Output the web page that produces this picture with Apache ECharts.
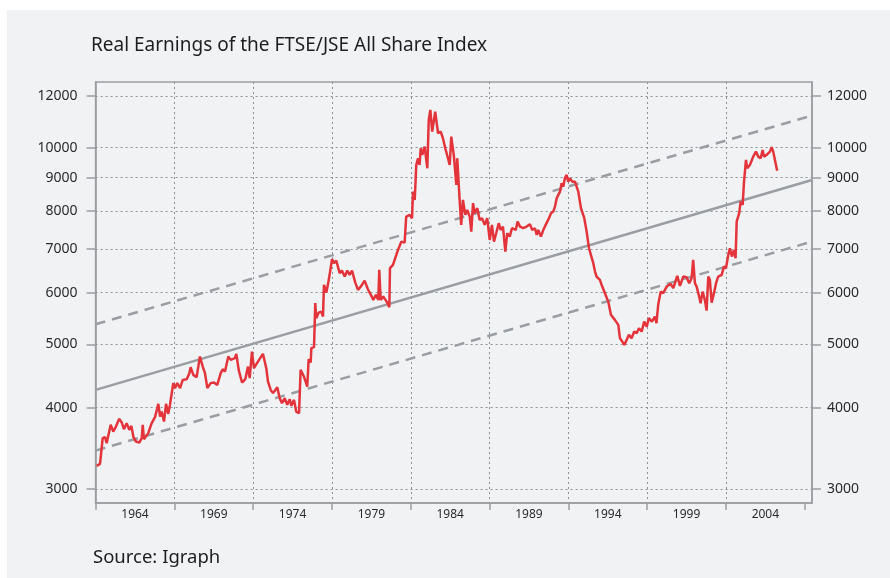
<!DOCTYPE html>
<html>
<head>
<meta charset="utf-8">
<title>Real Earnings of the FTSE/JSE All Share Index</title>
<script src="https://cdn.jsdelivr.net/npm/echarts@6.0.0/dist/echarts.min.js"></script>
<style>
  html, body { margin: 0; padding: 0; background: #ffffff; }
  #panel { position: absolute; left: 7px; top: 10px; right: 0; bottom: 0; background: #f1f2f4; }
  #chart { position: absolute; left: 0; top: 0; width: 890px; height: 578px; }
</style>
</head>
<body>
<div id="panel"></div>
<div id="chart"></div>
<script>
// real earnings (year, index level)
const years = [
  1961.57, 1961.78, 1961.95, 1962.10, 1962.20, 1962.46, 1962.62, 1962.79, 1963.00, 1963.16,
  1963.30, 1963.47, 1963.64, 1963.77, 1963.89, 1964.06, 1964.27, 1964.43, 1964.49, 1964.57,
  1964.84, 1965.06, 1965.27, 1965.48, 1965.59, 1965.69, 1965.84, 1965.97, 1966.11, 1966.22,
  1966.33, 1966.43, 1966.54, 1966.68, 1966.86, 1967.03, 1967.28, 1967.45, 1967.53, 1967.70,
  1967.91, 1968.12, 1968.30, 1968.44, 1968.59, 1968.80, 1969.01, 1969.22, 1969.44, 1969.56,
  1969.71, 1969.92, 1970.07, 1970.34, 1970.43, 1970.58, 1970.79, 1971.00, 1971.17, 1971.28,
  1971.42, 1971.55, 1971.80, 1972.12, 1972.33, 1972.44, 1972.61, 1972.76, 1973.03, 1973.18,
  1973.33, 1973.50, 1973.66, 1973.82, 1973.92, 1974.09, 1974.23, 1974.41, 1974.51, 1974.72,
  1974.93, 1975.02, 1975.15, 1975.19, 1975.36, 1975.44, 1975.50, 1975.66, 1975.82, 1975.93,
  1975.99, 1976.14, 1976.25, 1976.35, 1976.50, 1976.63, 1976.77, 1976.99, 1977.13, 1977.31,
  1977.47, 1977.62, 1977.77, 1977.98, 1978.15, 1978.36, 1978.57, 1978.78, 1979.04, 1979.12,
  1979.29, 1979.44, 1979.50, 1979.59, 1979.75, 1979.97, 1980.14, 1980.18, 1980.37, 1980.69,
  1980.90, 1981.11, 1981.21, 1981.43, 1981.58, 1981.64, 1981.75, 1981.85, 1981.96, 1982.06,
  1982.13, 1982.23, 1982.38, 1982.48, 1982.55, 1982.64, 1982.74, 1982.86, 1983.05, 1983.23,
  1983.40, 1983.54, 1983.69, 1983.86, 1983.97, 1984.07, 1984.24, 1984.39, 1984.45, 1984.54,
  1984.60, 1984.70, 1984.81, 1984.96, 1985.08, 1985.24, 1985.34, 1985.45, 1985.55, 1985.72,
  1985.87, 1986.02, 1986.19, 1986.35, 1986.51, 1986.65, 1986.78, 1986.92, 1987.08, 1987.20,
  1987.35, 1987.50, 1987.62, 1987.78, 1987.92, 1988.00, 1988.16, 1988.28, 1988.43, 1988.64,
  1988.85, 1989.06, 1989.21, 1989.38, 1989.49, 1989.59, 1989.76, 1989.91, 1990.06, 1990.22,
  1990.40, 1990.54, 1990.65, 1990.76, 1990.86, 1990.97, 1991.07, 1991.18, 1991.28, 1991.39,
  1991.49, 1991.60, 1991.75, 1991.92, 1992.03, 1992.13, 1992.30, 1992.51, 1992.66, 1992.81,
  1992.93, 1993.08, 1993.19, 1993.29, 1993.50, 1993.65, 1993.82, 1994.03, 1994.20, 1994.45,
  1994.67, 1994.77, 1994.92, 1995.05, 1995.20, 1995.34, 1995.51, 1995.68, 1995.83, 1995.98,
  1996.15, 1996.31, 1996.47, 1996.61, 1996.80, 1996.99, 1997.09, 1997.20, 1997.36, 1997.52,
  1997.74, 1997.99, 1998.16, 1998.41, 1998.58, 1998.79, 1999.00, 1999.17, 1999.32, 1999.42,
  1999.53, 1999.64, 1999.80, 1999.89, 2000.02, 2000.16, 2000.27, 2000.38, 2000.48, 2000.59,
  2000.74, 2000.87, 2001.01, 2001.23, 2001.37, 2001.50, 2001.65, 2001.75, 2001.88, 2002.01,
  2002.11, 2002.18, 2002.34, 2002.43, 2002.56, 2002.64, 2002.77, 2002.85, 2003.02, 2003.23,
  2003.40, 2003.55, 2003.70, 2003.83, 2003.91, 2004.08, 2004.29, 2004.40, 2004.50, 2004.61,
  2004.75
];
const earnings = [
  3258, 3281, 3592, 3605, 3529, 3765, 3676, 3742, 3845, 3795,
  3707, 3787, 3698, 3751, 3612, 3549, 3537, 3592, 3765, 3579,
  3656, 3787, 3868, 4054, 3876, 3945, 3808, 4054, 3913, 4040,
  4040, 4361, 4284, 4361, 4284, 4411, 4422, 4517, 4613, 4490,
  4454, 4789, 4623, 4517, 4284, 4361, 4370, 4334, 4517, 4580,
  4542, 4789, 4733, 4762, 4835, 4569, 4370, 4422, 4623, 4438,
  4874, 4597, 4705, 4835, 4597, 4385, 4258, 4210, 4299, 4136,
  4064, 4136, 4040, 4121, 4026, 4111, 3945, 3923, 4569, 4463,
  4308, 4745, 4689, 4933, 4951, 5781, 5483, 5592, 5612, 5514,
  6166, 6001, 6188, 6388, 6750, 6656, 6717, 6426, 6484, 6349,
  6484, 6388, 6484, 6216, 6057, 6144, 6260, 6072, 5904, 5848,
  5952, 5848, 6500, 5848, 5917, 5813, 5700, 6540, 6617, 6974,
  7182, 7157, 7844, 7891, 7799, 8565, 8318, 9411, 9635, 9411,
  9981, 9749, 10037, 10098, 9301, 11026, 11422, 10581, 11355, 10523,
  10581, 10339, 9981, 9635, 9411, 10397, 9690, 8770, 9635, 8823,
  8318, 7618, 8318, 7891, 8030, 7844, 7439, 8223, 7938, 8079,
  7752, 7799, 7618, 7799, 7224, 7618, 7182, 7398, 7663, 7483,
  7572, 6933, 7398, 7309, 7529, 7572, 7483, 7706, 7572, 7529,
  7572, 7636, 7483, 7529, 7353, 7483, 7309, 7483, 7618, 7752,
  7938, 7983, 8125, 8369, 8467, 8565, 8823, 8718, 8979, 9085,
  8872, 8979, 8872, 8872, 8925, 8565, 8079, 7799, 7439, 7015,
  6854, 6656, 6462, 6349, 6275, 6129, 5988, 5813, 5548, 5450,
  5355, 5110, 5049, 4991, 5079, 5170, 5110, 5230, 5200, 5292,
  5230, 5417, 5323, 5483, 5417, 5514, 5386, 5747, 6021, 5988,
  6129, 6188, 6094, 6365, 6144, 6349, 6335, 6203, 6313, 6733,
  6203, 6129, 5917, 5781, 6021, 5848, 5631, 6349, 6275, 5793,
  5988, 6203, 6349, 6388, 6577, 6540, 6854, 7017, 6813, 6974,
  6774, 7706, 7938, 8269, 8174, 8823, 9577, 9301, 9411, 9690,
  9862, 9690, 9635, 9920, 9690, 9749, 9862, 10016, 9862, 9920,
  9223
];

// log-linear trend and its band
const trendYears = [1961.5, 2006.96];
const trendValues = [4258, 8925];
const bandYears = [1961.5, 2006.7];
const upperBand = [5367, 11155];
const lowerBand = [3438, 7153];

// axes
const yTicks = [3000, 4000, 5000, 6000, 7000, 8000, 9000, 10000, 12000];
const yRange = [2858, 12606];
const xRange = [1961.5, 2006.96];
const xTickYears = [1961.5, 1966.5, 1971.5, 1976.5, 1981.5, 1986.5, 1991.5, 1996.5, 2001.5, 2006.5];
const xGridYears = [1966.5, 1971.5, 1976.5, 1981.5, 1986.5, 1991.5, 1996.5, 2001.5];
const xLabelYears = [1964, 1969, 1974, 1979, 1984, 1989, 1994, 1999, 2004];

const lg = Math.log10;
const pairs = (xs, ys) => xs.map((x, i) => [x, lg(ys[i])]);

const FONT = 'Noto Sans';
const AXIS_GREY = '#9a9da1';
const GRID_GREY = '#8e9194';
const TEXT = '#2b2b2b';

const chart = echarts.init(document.getElementById('chart'));

const yAxisBase = {
  type: 'value',
  min: lg(yRange[0]),
  max: lg(yRange[1]),
  axisLine: { show: true, lineStyle: { color: AXIS_GREY, width: 1.5 } },
  axisTick: {
    show: true,
    customValues: yTicks.map(lg),
    length: 9,
    lineStyle: { color: AXIS_GREY, width: 1.5 },
  },
  axisLabel: {
    customValues: yTicks.map(lg),
    formatter: (v) => String(Math.round(Math.pow(10, v))),
    color: TEXT,
    fontFamily: FONT,
    fontSize: 14,
  },
};

chart.setOption({
  animation: false,
  backgroundColor: 'transparent',
  textStyle: { fontFamily: FONT },
  title: [
    {
      text: 'Real Earnings of the FTSE/JSE All Share Index',
      left: 86,
      top: 31,
      textStyle: { fontFamily: FONT, fontSize: 19, fontWeight: 'normal', color: '#1e1e1e' },
    },
    {
      text: 'Source: Igraph',
      left: 88,
      top: 543,
      textStyle: { fontFamily: FONT, fontSize: 18.5, fontWeight: 'normal', color: '#1e1e1e' },
    },
  ],
  grid: {
    left: 95.6,
    right: 78,
    top: 82,
    bottom: 75,
    show: true,
    borderColor: AXIS_GREY,
    borderWidth: 1.5,
    backgroundColor: 'transparent',
  },
  xAxis: [
    {
      type: 'value',
      position: 'bottom',
      min: xRange[0],
      max: xRange[1],
      axisLine: { show: true, onZero: false, lineStyle: { color: AXIS_GREY, width: 1.5 } },
      axisTick: {
        show: true,
        customValues: xTickYears,
        length: 7,
        lineStyle: { color: AXIS_GREY, width: 1.5 },
      },
      axisLabel: {
        customValues: xLabelYears,
        formatter: (v) => String(Math.round(v)),
        color: TEXT,
        fontFamily: FONT,
        fontSize: 12,
        margin: 6,
      },
      splitLine: { show: false },
    },
    {
      type: 'value',
      position: 'top',
      min: xRange[0],
      max: xRange[1],
      axisLine: { show: false },
      axisTick: { show: false, customValues: xGridYears },
      axisLabel: { show: false, customValues: xGridYears },
      splitLine: { show: true, lineStyle: { color: GRID_GREY, width: 1, type: [2, 3] } },
    },
  ],
  yAxis: [
    Object.assign({}, yAxisBase, {
      position: 'left',
      axisLabel: Object.assign({}, yAxisBase.axisLabel, { margin: 18 }),
      splitLine: { show: true, lineStyle: { color: GRID_GREY, width: 1, type: [2, 3] } },
    }),
    Object.assign({}, yAxisBase, {
      position: 'right',
      axisLabel: Object.assign({}, yAxisBase.axisLabel, { margin: 15 }),
      splitLine: { show: false },
    }),
  ],
  series: [
    {
      name: 'Upper band',
      type: 'line',
      data: pairs(bandYears, upperBand),
      showSymbol: false,
      lineStyle: { color: AXIS_GREY, width: 2.5, type: [10, 7] },
      z: 2,
    },
    {
      name: 'Lower band',
      type: 'line',
      data: pairs(bandYears, lowerBand),
      showSymbol: false,
      lineStyle: { color: AXIS_GREY, width: 2.5, type: [10, 7] },
      z: 2,
    },
    {
      name: 'Trend',
      type: 'line',
      data: pairs(trendYears, trendValues),
      showSymbol: false,
      lineStyle: { color: AXIS_GREY, width: 2.5 },
      z: 2,
    },
    {
      name: 'Real earnings',
      type: 'line',
      data: pairs(years, earnings),
      showSymbol: false,
      lineStyle: { color: '#e3343c', width: 2.5 },
      z: 3,
    },
  ],
});
</script>
</body>
</html>
